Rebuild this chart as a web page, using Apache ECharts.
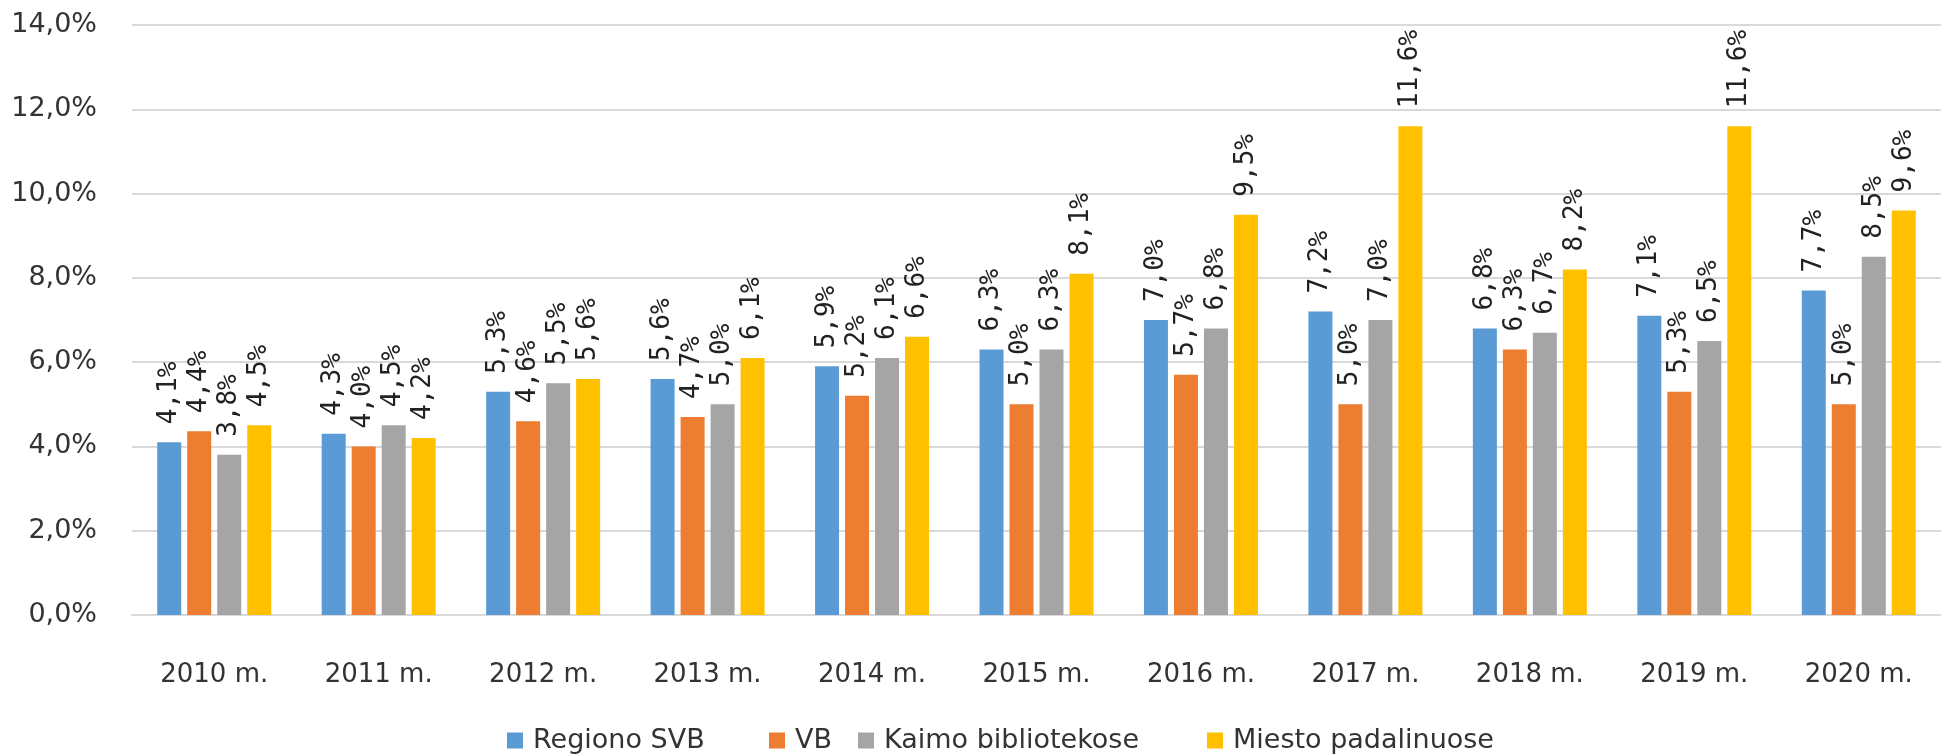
<!DOCTYPE html>
<html>
<head>
<meta charset="utf-8">
<script src="https://cdn.jsdelivr.net/npm/echarts@6/dist/echarts.min.js"></script>
<style>
html,body{margin:0;padding:0;background:#fff;}
#chart{width:1941px;height:756px;}
</style>
</head>
<body>
<div id="chart"></div>
<script>
const categories = ['2010 m.','2011 m.','2012 m.','2013 m.','2014 m.','2015 m.','2016 m.','2017 m.','2018 m.','2019 m.','2020 m.'];
const seriesNames = ['Regiono SVB','VB','Kaimo bibliotekose','Miesto padalinuose'];
const regionoSVB = [4.1,4.3,5.3,5.6,5.9,6.3,7.0,7.2,6.8,7.1,7.7];
const vb = [4.36,4.0,4.6,4.7,5.2,5.0,5.7,5.0,6.3,5.3,5.0];
const kaimo = [3.8,4.5,5.5,5.0,6.1,6.3,6.8,7.0,6.7,6.5,8.5];
const miesto = [4.5,4.2,5.6,6.1,6.6,8.1,9.5,11.6,8.2,11.6,9.6];
const colors = ['#5B9BD5','#ED7D31','#A5A5A5','#FFC000'];
const yTicks = {min:0, max:14, interval:2};

const fmt = v => v.toFixed(1).replace('.', ',') + '%';
const allData = [regionoSVB, vb, kaimo, miesto];
const legendLefts = [507, 769, 858, 1207];

const chart = echarts.init(document.getElementById('chart'));
chart.setOption({
  animation:false,
  color: colors,
  grid:{left:132, right:-15, top:25, bottom:141, containLabel:false},
  legend: seriesNames.map((n,i)=>({
    data:[n], left:legendLefts[i], top:727, itemWidth:16, itemHeight:16, itemGap:0,
    icon:'rect', padding:0,
    textStyle:{fontFamily:'DejaVu Sans', fontSize:27, color:'#333', padding:[0,0,0,5]}
  })),
  xAxis:{
    type:'category', data:categories,
    axisTick:{show:false},
    axisLine:{lineStyle:{color:'#D9D9D9', width:2}},
    axisLabel:{fontFamily:'DejaVu Sans', fontSize:26, color:'#333', margin:47}
  },
  yAxis:{
    type:'value', min:yTicks.min, max:yTicks.max, interval:yTicks.interval,
    axisLine:{show:false}, axisTick:{show:false},
    splitLine:{lineStyle:{color:'#D9D9D9', width:2}},
    axisLabel:{fontFamily:'DejaVu Sans', fontSize:27, color:'#333', margin:35, formatter:fmt}
  },
  series: seriesNames.map((n,i)=>({
    name:n, type:'bar', data:allData[i], barWidth:24, barGap:'25%',
    itemStyle:{color:colors[i]},
    label:{show:true, position:'top', rotate:90, align:'left', verticalAlign:'middle', distance:18,
      fontFamily:'DejaVu Sans Mono', fontSize:26, color:'#222',
      formatter:p=>fmt(p.value)}
  }))
});
</script>
</body>
</html>
